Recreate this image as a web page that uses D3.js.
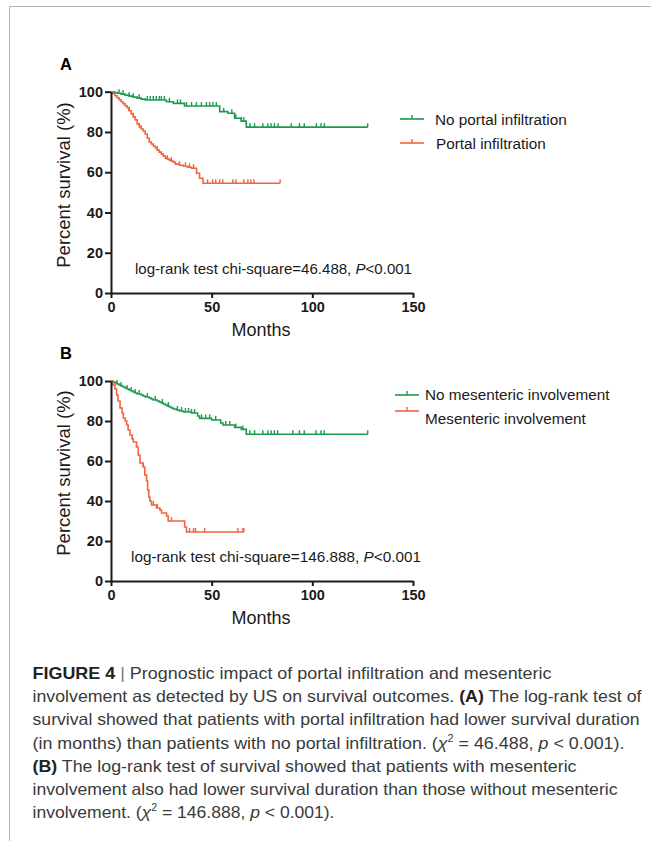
<!DOCTYPE html>
<html>
<head>
<meta charset="utf-8">
<script src="https://cdnjs.cloudflare.com/ajax/libs/d3/7.8.5/d3.min.js"></script>
<style>
  body { margin: 0; background: #fff; }
  svg { display: block; }
  text { font-family: "Liberation Sans", Arial, sans-serif; }
</style>
</head>
<body>
<div class="chart"></div>
<script>
var xTicks = [0, 50, 100, 150];
var yTicks = [0, 20, 40, 60, 80, 100];

// panel A: [month, percent survival] at each step
var noPortal = [[0,100],[1.5,99.6],[3,99.2],[5,98.8],[7,98.3],[9,97.8],[11,97.3],[13,96.8],[15,96.3],[17,95.9],
  [27.5,95.0],[31,94.2],[36.5,92.9],[54,90.1],[58,89.3],[61.4,86.8],[64.7,85.4],[67.2,82.4]];
var noPortalEnd = 127.5;
var noPortalCens = [4,6,9,11,14,18,19.5,21,22.5,24,25,26.5,29,33,34.5,37.5,40,42.4,44.9,47.4,49,50.6,52.3,
  56,60,62,64.7,66,69,71.3,75.4,77.9,79.5,81.2,83,89.5,93.6,96,102,104.3,106,127.5];

var portal = [[0,100],[1,99],[2,98],[3,97],[4,96],[5,95],[6,94],[7,93],[8,92],[9,90.5],[10,89],[11,87.5],
  [12,86],[13,84],[14,82.5],[15,81.5],[16,80.5],[17,79],[18,77],[19,75],[20,74],[21,73],[22,72],[23,71],
  [24,70],[25,69],[26,68],[27,67],[28,66.5],[29,66],[30,65.5],[31,65],[32,64],[34,63.5],[36,63],[38,62.5],
  [40,62],[42.5,59.5],[44,57],[45.7,54.5]];
var portalEnd = 84;
var portalCens = [9,11,15,23,28,30,34,37,39,41,48,50.5,52,54,55.5,60.5,62,66,68,69.5,71,84];

// panel B
var noMes = [[0,100],[1,99.5],[2,99],[3,98.5],[4,98],[5,97.5],[6,97],[7,96.5],[8,96],[9,95.5],[10,95],
  [11,94.5],[12,94],[13,93.5],[15,93],[16,92.5],[17,92],[19,91.5],[20,91],[21,90.5],[23,90],[24,89.5],
  [25,89],[26,88.5],[27,88],[28,87.5],[29,87],[30,86.5],[31,86],[32.5,85.5],[34,85],[36,84.5],[40,84],
  [43,82.5],[44,81.3],[50,80.5],[54.5,79],[55.6,78],[61.4,76.8],[64.7,75.8],[67.2,73.4]];
var noMesEnd = 127.5;
var noMesCens = [3,5,8,10,12,14,18,22,25.5,28.5,33,35,37,38.5,40,41.5,45,47,49,52,57,59,62,65.5,
  69,71.3,75.4,77.9,79.5,81.2,82.8,90.3,93.6,96,101.8,104.3,105.9,127.5];

var mes = [[0,100],[1,98],[2,96],[2.8,93],[3.5,90],[4.5,86.5],[5.5,84],[6.1,81.5],[7,80],[7.8,78],[8.5,75.5],
  [9.4,73],[10.5,71],[11.1,69.5],[12.7,67],[13.5,63],[14.4,59],[16,57],[16.8,53],[17.7,50],[18.2,45.5],
  [18.8,42],[19.3,40],[20.1,38],[22.6,36.5],[24.3,35.5],[25.1,34],[27.6,32.5],[28.4,30],[36.6,27],[37.5,24.5]];
var mesEnd = 66;
var mesCens = [16,21,23,30,39,41,42,46.5,63,65.5,66];

var green = "#1e9a4e";
var red = "#f2643f";

var svg = d3.select(".chart")
  .append("svg")
  .attr("width", 651)
  .attr("height", 841);

// page frame
svg.append("path")
  .attr("d", "M9.5,841V6.5H651")
  .attr("fill", "none")
  .attr("stroke", "#b3b3b3")
  .attr("stroke-width", 1);

var x = d3.scaleLinear().domain([0, 150]).range([111, 413]);

function survAt(steps, t) {
  var s = steps[0][1];
  steps.forEach(function(d) { if (d[0] <= t) s = d[1]; });
  return s;
}

function drawPanel(p) {
  var y = d3.scaleLinear().domain([0, 100]).range([p.y0, p.y100]);
  var g = svg.append("g");

  g.append("text")
    .attr("x", 60).attr("y", p.y100 - 22)
    .attr("font-size", 16.5).attr("font-weight", "bold")
    .text(p.letter);

  var line = d3.line()
    .x(function(d) { return x(d[0]); })
    .y(function(d) { return y(d[1]); })
    .curve(d3.curveStepAfter);

  p.series.forEach(function(s) {
    var pts = s.steps.concat([[s.end, s.steps[s.steps.length - 1][1]]]);
    g.append("path")
      .attr("d", line(pts))
      .attr("fill", "none")
      .attr("stroke", s.color)
      .attr("stroke-width", 1.6);

    g.selectAll(null)
      .data(s.cens)
      .enter().append("line")
      .attr("x1", function(t) { return x(t); })
      .attr("x2", function(t) { return x(t); })
      .attr("y1", function(t) { return y(survAt(s.steps, t)); })
      .attr("y2", function(t) { return y(survAt(s.steps, t)) - 4; })
      .attr("stroke", s.color)
      .attr("stroke-width", 1.4);
  });

  var leftAxis = d3.axisLeft(y).tickValues(yTicks).tickSize(6).tickSizeOuter(0).tickPadding(2);
  var bottomAxis = d3.axisBottom(x).tickValues(xTicks).tickSize(5).tickSizeOuter(0).tickPadding(4);

  var ya = g.append("g").attr("transform", "translate(111,0)").call(leftAxis);
  var xa = g.append("g").attr("transform", "translate(0," + p.y0 + ")").call(bottomAxis);
  [ya, xa].forEach(function(a) {
    a.select(".domain").attr("stroke", "#1a1a1a").attr("stroke-width", 2);
    a.selectAll(".tick line").attr("stroke", "#1a1a1a").attr("stroke-width", 2);
    a.selectAll(".tick text")
      .attr("font-family", "Liberation Sans, Arial, sans-serif")
      .attr("font-size", 14.5).attr("font-weight", "bold").attr("fill", "#1a1a1a");
  });

  g.append("text")
    .attr("transform", "translate(70," + p.titleY + ") rotate(-90)")
    .attr("text-anchor", "middle")
    .attr("font-size", 18.5)
    .attr("fill", "#1a1a1a")
    .text("Percent survival (%)");

  g.append("text")
    .attr("x", 261).attr("y", p.y0 + 43)
    .attr("text-anchor", "middle")
    .attr("font-size", 18)
    .attr("fill", "#1a1a1a")
    .text("Months");

  var note = g.append("text")
    .attr("x", p.noteX).attr("y", p.noteY)
    .attr("font-size", 15)
    .attr("fill", "#1a1a1a")
    .attr("textLength", p.noteW)
    .attr("lengthAdjust", "spacingAndGlyphs");
  note.append("tspan").text("log-rank test chi-square=" + p.chi + ", ");
  note.append("tspan").attr("font-style", "italic").text("P");
  note.append("tspan").text("<0.001");

  p.legend.forEach(function(l) {
    g.append("line")
      .attr("x1", l.x).attr("x2", l.x + 24)
      .attr("y1", l.y).attr("y2", l.y)
      .attr("stroke", l.color).attr("stroke-width", 1.6);
    g.append("line")
      .attr("x1", l.x + 12).attr("x2", l.x + 12)
      .attr("y1", l.y).attr("y2", l.y - 4)
      .attr("stroke", l.color).attr("stroke-width", 1.4);
    g.append("text")
      .attr("x", l.tx).attr("y", l.ty)
      .attr("font-size", 15.3)
      .attr("fill", "#1a1a1a")
      .text(l.label);
  });
}

drawPanel({
  letter: "A", y0: 293, y100: 91.7, titleY: 185,
  noteX: 135, noteY: 274, noteW: 277, chi: "46.488",
  series: [
    { steps: noPortal, end: noPortalEnd, cens: noPortalCens, color: green },
    { steps: portal, end: portalEnd, cens: portalCens, color: red }
  ],
  legend: [
    { x: 400, y: 119, tx: 435, ty: 124.5, color: green, label: "No portal infiltration" },
    { x: 400, y: 143, tx: 436, ty: 148.5, color: red, label: "Portal infiltration" }
  ]
});

drawPanel({
  letter: "B", y0: 581, y100: 381, titleY: 473,
  noteX: 131, noteY: 562, noteW: 290, chi: "146.888",
  series: [
    { steps: noMes, end: noMesEnd, cens: noMesCens, color: green },
    { steps: mes, end: mesEnd, cens: mesCens, color: red }
  ],
  legend: [
    { x: 395, y: 395, tx: 425, ty: 400, color: green, label: "No mesenteric involvement" },
    { x: 395, y: 411, tx: 425, ty: 424, color: red, label: "Mesenteric involvement" }
  ]
});

// caption
var capX = 32.5;
var capLines = [
  { w: 519, parts: [["FIGURE 4", "b"], [" | ", "bar"], ["Prognostic impact of portal infiltration and mesenteric", ""]] },
  { w: 609, parts: [["involvement as detected by US on survival outcomes. ", ""], ["(A)", "b"], [" The log-rank test of", ""]] },
  { w: 607, parts: [["survival showed that patients with portal infiltration had lower survival duration", ""]] },
  { w: 592, parts: [["(in months) than patients with no portal infiltration. (", ""], ["\u03c7", "i"], ["2", "sup"], [" = 46.488, ", ""], ["p", "i"], [" < 0.001).", ""]] },
  { w: 544, parts: [["(B)", "b"], [" The log-rank test of survival showed that patients with mesenteric", ""]] },
  { w: 585, parts: [["involvement also had lower survival duration than those without mesenteric", ""]] },
  { w: 302, parts: [["involvement. (", ""], ["\u03c7", "i"], ["2", "sup"], [" = 146.888, ", ""], ["p", "i"], [" < 0.001).", ""]] }
];

capLines.forEach(function(ln, i) {
  var t = svg.append("text")
    .attr("x", capX).attr("y", 679 + i * 23.2)
    .attr("font-size", 16.5)
    .attr("fill", "#3a3a3a")
    .attr("textLength", ln.w)
    .attr("lengthAdjust", "spacingAndGlyphs");
  ln.parts.forEach(function(pt, k) {
    var s = t.append("tspan").text(pt[0]);
    if (pt[1] === "b") s.attr("font-weight", "bold").attr("fill", "#222");
    if (pt[1] === "bar") s.attr("fill", "#777");
    if (pt[1] === "i") s.attr("font-style", "italic");
    if (pt[1] === "sup") s.attr("font-size", 10).attr("dy", -7);
    if (k > 0 && ln.parts[k - 1][1] === "sup") s.attr("dy", 7);
  });
});
</script>
</body>
</html>
